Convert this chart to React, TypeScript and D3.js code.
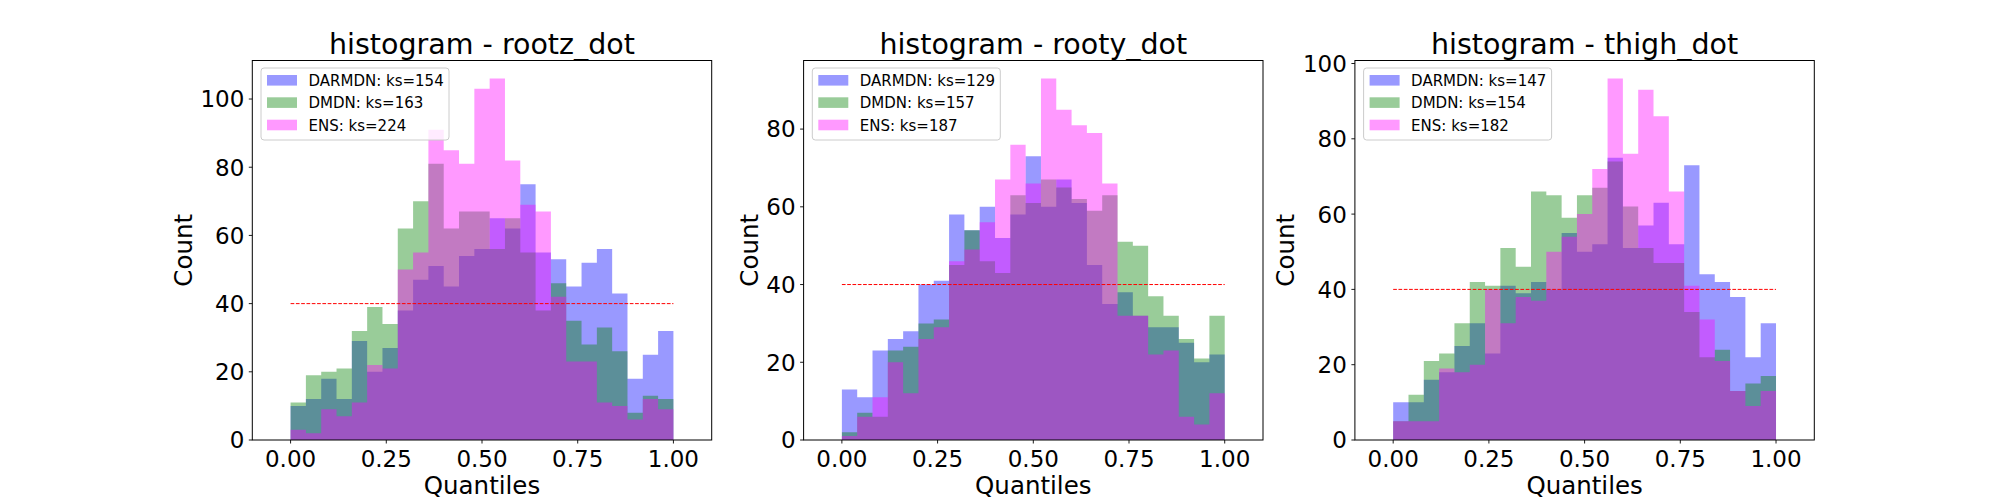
import * as d3 from 'd3';

const WIDTH = 2016;
const HEIGHT = 504;
const FONT = "'DejaVu Sans', sans-serif";

// 25 equal bins on [0, 1]
const binEdges = d3.range(26).map((i) => i / 25);

const xTicks = [0, 0.25, 0.5, 0.75, 1];
const xTickLabels = ['0.00', '0.25', '0.50', '0.75', '1.00'];

const seriesNames = ['DARMDN', 'DMDN', 'ENS'];
const seriesColors = ['#0000ff', '#008000', '#ff00ff'];

// rootz_dot
const rootzDarmdn = [10, 12, 18, 12, 29, 20, 27, 38, 47, 51, 45, 54, 56, 65, 62, 75, 55, 53, 45, 52, 56, 43, 18, 25, 32];
const rootzDmdn = [11, 19, 20, 21, 32, 39, 34, 62, 70, 81, 62, 67, 67, 56, 65, 55, 38, 46, 35, 28, 33, 26, 8, 13, 12];
const rootzEns = [3, 2, 9, 7, 11, 22, 21, 50, 55, 91, 85, 81, 103, 106, 82, 69, 67, 42, 23, 23, 11, 10, 6, 12, 9];
const rootzKs = [154, 163, 224];
const rootzYTicks = [0, 20, 40, 60, 80, 100];

// rooty_dot
const rootyDarmdn = [13, 11, 23, 26, 28, 40, 41, 58, 54, 60, 52, 58, 73, 60, 67, 61, 45, 35, 38, 32, 29, 29, 25, 20, 22];
const rootyDmdn = [2, 7, 6, 23, 24, 30, 31, 45, 54, 46, 43, 63, 61, 67, 65, 62, 59, 63, 51, 50, 37, 32, 26, 21, 32];
const rootyEns = [1, 6, 11, 20, 12, 26, 29, 46, 49, 56, 67, 76, 66, 93, 85, 81, 79, 66, 32, 32, 22, 23, 6, 4, 12];
const rootyKs = [129, 157, 187];
const rootyYTicks = [0, 20, 40, 60, 80];

// thigh_dot
const thighDarmdn = [10, 10, 16, 18, 25, 31, 23, 41, 39, 42, 40, 55, 50, 52, 75, 51, 57, 63, 52, 73, 44, 42, 38, 22, 31];
const thighDmdn = [5, 12, 21, 23, 31, 42, 41, 51, 46, 66, 65, 59, 65, 67, 74, 62, 51, 47, 47, 34, 22, 24, 13, 15, 17];
const thighEns = [5, 5, 5, 19, 18, 20, 40, 31, 38, 37, 50, 54, 60, 72, 96, 76, 93, 86, 66, 41, 32, 21, 13, 9, 13];
const thighKs = [147, 154, 182];
const thighYTicks = [0, 20, 40, 60, 80, 100];

const uniformLevel = 40;

const panels = [
  { title: 'histogram - rootz_dot', series: [rootzDarmdn, rootzDmdn, rootzEns], ks: rootzKs, yTicks: rootzYTicks },
  { title: 'histogram - rooty_dot', series: [rootyDarmdn, rootyDmdn, rootyEns], ks: rootyKs, yTicks: rootyYTicks },
  { title: 'histogram - thigh_dot', series: [thighDarmdn, thighDmdn, thighEns], ks: thighKs, yTicks: thighYTicks },
];

const margin = { left: 252.3, top: 60.5, bottom: 440 };
const axW = 459.4;
const axStep = 551.3;

const tickFont = 23;
const labelFont = 24.5;
const titleFont = 28.5;
const legendFont = 15;

type PanelProps = {
  left: number;
  title: string;
  series: number[][];
  ks: number[];
  yTicks: number[];
};

const Panel = ({ left, title, series, ks, yTicks }: PanelProps) => {
  const right = left + axW;
  const x = d3.scaleLinear().domain([-0.1, 1.1]).range([left, right]);
  const yMax = (d3.max(series.flat()) as number) * 1.05;
  const y = d3.scaleLinear().domain([0, yMax]).range([margin.bottom, margin.top]);

  const area = d3
    .area<[number, number]>()
    .x((d) => x(d[0]))
    .y0(y(0))
    .y1((d) => y(d[1]))
    .curve(d3.curveStepAfter);

  const maxChars = d3.max(yTicks, (t) => String(t).length) as number;
  const yLabelX = left - (maxChars * 0.636 * tickFont + 11 + 0.236 * labelFont);
  const midY = (margin.top + margin.bottom) / 2;

  const lgX = left + 8.7;
  const lgY = 68;
  const rowCenters = [80.3, 102.6, 125];

  return (
    <g>
      {series.map((vals, si) => (
        <path
          key={si}
          d={area(binEdges.map((e, i) => [e, vals[Math.min(i, vals.length - 1)]] as [number, number])) ?? ''}
          fill={seriesColors[si]}
          fillOpacity={0.4}
        />
      ))}
      <line
        x1={x(0)}
        x2={x(1)}
        y1={y(uniformLevel)}
        y2={y(uniformLevel)}
        stroke="#ff0000"
        strokeWidth={1}
        strokeDasharray="3.7 1.6"
      />
      <rect
        x={left}
        y={margin.top}
        width={axW}
        height={margin.bottom - margin.top}
        fill="none"
        stroke="#000"
        strokeWidth={1}
      />
      {xTicks.map((t, i) => (
        <g key={t}>
          <line x1={x(t)} x2={x(t)} y1={margin.bottom} y2={margin.bottom + 3.5} stroke="#000" strokeWidth={0.9} />
          <text x={x(t)} y={466.5} textAnchor="middle" fontSize={tickFont} fontFamily={FONT}>
            {xTickLabels[i]}
          </text>
        </g>
      ))}
      {yTicks.map((t) => (
        <g key={t}>
          <line x1={left - 3.5} x2={left} y1={y(t)} y2={y(t)} stroke="#000" strokeWidth={0.9} />
          <text x={left - 8} y={y(t) + 8.4} textAnchor="end" fontSize={tickFont} fontFamily={FONT}>
            {t}
          </text>
        </g>
      ))}
      <text x={(left + right) / 2} y={493.5} textAnchor="middle" fontSize={labelFont} fontFamily={FONT}>
        Quantiles
      </text>
      <text
        transform={`translate(${yLabelX},${midY}) rotate(-90)`}
        textAnchor="middle"
        fontSize={labelFont}
        fontFamily={FONT}
      >
        Count
      </text>
      <text x={(left + right) / 2} y={53.5} textAnchor="middle" fontSize={titleFont} fontFamily={FONT}>
        {title}
      </text>
      <g>
        <rect x={lgX} y={lgY} width={188} height={72} rx={3} fill="#fff" fillOpacity={0.8} stroke="#cccccc" strokeWidth={1} />
        {seriesNames.map((name, si) => (
          <g key={name}>
            <rect
              x={lgX + 6}
              y={rowCenters[si] - 5.3}
              width={30}
              height={10.6}
              fill={seriesColors[si]}
              fillOpacity={0.4}
            />
            <text x={lgX + 47.5} y={rowCenters[si] + 5.5} fontSize={legendFont} fontFamily={FONT}>
              {`${name}: ks=${ks[si]}`}
            </text>
          </g>
        ))}
      </g>
    </g>
  );
};

export default function App() {
  return (
    <>
      <style>{'body{margin:0;}'}</style>
      <svg width={WIDTH} height={HEIGHT} style={{ display: 'block', background: '#fff' }}>
        {panels.map((p, i) => (
          <Panel key={p.title} left={margin.left + i * axStep} {...p} />
        ))}
      </svg>
    </>
  );
}
